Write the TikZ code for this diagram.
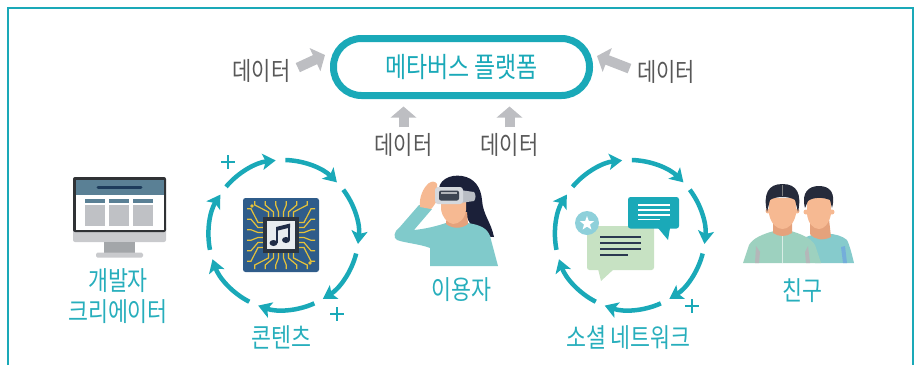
\documentclass[tikz,border=0pt]{standalone}
\usepackage{fontspec}
\newfontfamily\krfont[FakeStretch=0.82]{Noto Sans CJK KR}
\usetikzlibrary{arrows.meta, calc, shapes.geometric}

\definecolor{mvteal}{HTML}{1AA9B8}
\definecolor{lblteal}{HTML}{27AEBC}
\definecolor{txtgray}{HTML}{585858}
\definecolor{feedgray}{HTML}{BDBEC2}
% icon colours
\definecolor{monbezel}{HTML}{303235}
\definecolor{monchin}{HTML}{C9CACD}
\definecolor{monhead}{HTML}{5A8095}
\definecolor{monbar}{HTML}{1D3C5C}
\definecolor{monbody}{HTML}{BFC1C5}
\definecolor{monneck}{HTML}{A3A6A9}
\definecolor{chipblue}{HTML}{2F5C8A}
\definecolor{chipcore}{HTML}{2B3440}
\definecolor{chiptrace}{HTML}{E6C23A}
\definecolor{chipface}{HTML}{E8ECF0}
\definecolor{notenavy}{HTML}{1F2C47}
\definecolor{hair}{HTML}{1B2039}
\definecolor{skin}{HTML}{F6B992}
\definecolor{skinshade}{HTML}{E5A27C}
\definecolor{sweater}{HTML}{80CACB}
\definecolor{visor}{HTML}{D5D8DD}
\definecolor{visorside}{HTML}{B9BDC4}
\definecolor{visordark}{HTML}{3C4451}
\definecolor{bubgreen}{HTML}{C7E2C3}
\definecolor{bubline}{HTML}{2A3850}
\definecolor{starring}{HTML}{8ED0DA}
\definecolor{shirtmint}{HTML}{9DD1BF}
\definecolor{shirtblue}{HTML}{86CBCC}
\definecolor{shirtside}{HTML}{74AEDA}
\definecolor{manhair}{HTML}{262B3B}
\definecolor{dart}{HTML}{B4B7B9}

\tikzset{
  platform/.style={draw=mvteal, line width=7pt, rounded corners=28pt,
    minimum width=256pt, minimum height=57pt, text=mvteal,
    font=\krfont\fontsize{28}{32}\selectfont},
  datalabel/.style={text=txtgray, inner sep=0pt, font=\krfont\fontsize{25.5}{30}\selectfont},
  grouplabel/.style={text=lblteal, inner sep=0pt, align=center,
    font=\krfont\fontsize{26.5}{31}\selectfont},
  feed/.style={draw=feedgray, line width=10pt, -{Triangle[length=11pt, width=25pt]}},
  loopseg/.style={draw=mvteal, line width=4.5pt, -{Stealth[length=13pt, width=16pt, inset=3pt]}},
  plusmark/.style={draw=mvteal, line width=2.4pt},
}

\begin{document}
\begin{tikzpicture}[x=1pt, y=-1pt]
    \useasboundingbox (0,0) rectangle (919,365);
    % frame, open at the bottom
    \draw[mvteal, line width=1.4pt] (8,365) -- (8,8) -- (913,8) -- (913,365);

    % Platform : pill with data flowing in from four sides
    \node[platform] (plat) at (461.5,67) {메타버스 플랫폼};
    \node[datalabel] (dl) at (261.5,71) {데이터};
    \node[datalabel] (dr) at (666,71.5) {데이터};
    \node[datalabel] (du1) at (403.5,145) {데이터};
    \node[datalabel] (du2) at (509.5,145) {데이터};
    \coordinate (inl) at (325,55);
    \coordinate (inr) at (597,56);
    \draw[feed, shorten <=8pt] (dl.east) -- (inl);
    \draw[feed, shorten <=8pt] (dr.west) -- (inr);
    \draw[feed, shorten <=6pt, shorten >=7.5pt] (du1.north) -- (du1.north |- plat.south);
    \draw[feed, shorten <=6pt, shorten >=7.5pt] (du2.north) -- (du2.north |- plat.south);

    % Developer : desktop monitor
    \fill[monchin, rounded corners=2pt] (73,226) rectangle (166,242);
    \fill[monbezel, rounded corners=2pt] (73,177) rectangle (166,232);
    \fill[white] (75.5,180) rectangle (163.5,229.5);
    \fill[monhead] (75.5,180) rectangle (163.5,195);
    \draw[monbar, line width=3pt, line cap=round] (98,187) -- (141,187);
    \foreach \x in {85,109,133} {
        \fill[monhead] (\x,199) rectangle ++(20,4);
        \fill[monbody] (\x,205) rectangle ++(20,21);
    }
    \fill[monneck] (104,242) rectangle (135,253);
    \fill[monchin, rounded corners=1.5pt] (96,252.5) rectangle (143,257.5);
    \node[grouplabel] (dev) at (118,296) {개발자\\크리에이터};

    % Contents : chip with a note, inside a loop of arrows
    \begin{scope}[shift={(281,235)}]
        \fill[chipblue, rounded corners=2.5pt] (-38,-37) rectangle (38,37);
        \foreach \r in {0,90,180,270}
            \foreach \o in {-12.5,-7.5,-2.5,2.5,7.5,12.5}
                \draw[chiptrace, line width=1.2pt, rotate=\r]
                    (\o,-18) -- (\o,-23) -- ({2.1*\o},-30) -- ({2.1*\o},-34);
        \fill[chiptrace] (-29,-29) circle (1.8);
        \fill[chiptrace] (29,28) circle (1.8);
        \fill[chipcore] (-18,-18) rectangle (18,18);
        \fill[chipface] (-14,-14) rectangle (14,14);
        \fill[notenavy] (-7.5,8) ellipse (4 and 3);
        \fill[notenavy] (5,5) ellipse (4 and 3);
        \fill[notenavy] (-4.8,8) rectangle (-3.2,-8);
        \fill[notenavy] (7.4,5) rectangle (9,-11.5);
        \fill[notenavy] (-4.8,-8) -- (9,-11.5) -- (9,-7.5) -- (-4.8,-4) -- cycle;
    \end{scope}
    \node[grouplabel] (cont) at (281.5,337) {콘텐츠};

    % User : woman with a headset
    \fill[hair] (439,193) .. controls (437,180) and (450,174) .. (462,176)
        .. controls (475,178) and (481,188) .. (482,200)
        .. controls (483,215) and (491,222) .. (494,237) -- (481,236)
        .. controls (474,230) and (468,222) .. (466,214) -- (446,217)
        .. controls (442,210) and (440,201) .. (439,193) -- cycle;
    \fill[sweater] (430,266) -- (430,248) .. controls (420,244) and (405,243) .. (397,240)
        .. controls (393,238) and (394,231) .. (399,228) -- (419,205) -- (432,209) -- (414,230)
        .. controls (425,229) and (437,226) .. (446,223)
        .. controls (452,227) and (462,227) .. (468,223)
        .. controls (480,225) and (487,228) .. (490,236) -- (498,266) -- cycle;
    \fill[skinshade] (447,212) -- (467,212) -- (468,224)
        .. controls (461,229) and (453,229) .. (446,224) -- cycle;
    \fill[skin] (441,196) -- (466,196) -- (466,210) .. controls (465,219) and (459,224) .. (453,224)
        .. controls (447,223) and (442,217) .. (441,209) -- cycle;
    \fill[skin] (420,207) .. controls (419,197) and (423,188) .. (429,183)
        .. controls (432,181) and (435,181) .. (437,184) -- (438,198)
        .. controls (436,203) and (433,207) .. (431,209) -- cycle;
    \fill[visorside] (460,190) -- (474,192) .. controls (476,195) and (476,198) .. (474,201) -- (460,203) -- cycle;
    \fill[visor, rounded corners=3pt] (435,187) rectangle (463,204);
    \fill[visordark, rounded corners=2pt] (439,190.5) rectangle (459,200.5);
    \fill[white!60!visordark] (441,192) rectangle (457,194);
    \node[grouplabel] (user) at (461,290) {이용자};

    % Social network : two speech bubbles inside a loop of arrows
    \fill[bubgreen, rounded corners=2.5pt] (587,226) rectangle (654,270);
    \fill[bubgreen] (598,269) -- (601,281) -- (614,269) -- cycle;
    \foreach \y in {237,243,249}
        \draw[bubline, line width=1.8pt] (600,\y) -- (641,\y);
    \draw[bubline, line width=1.8pt] (600,255) -- (628,255);
    \fill[mvteal, rounded corners=2.5pt] (628,197) rectangle (679,228.5);
    \fill[mvteal] (658,228) -- (668,240) -- (670,228) -- cycle;
    \foreach \y in {205,210,215}
        \draw[white, line width=1.5pt] (638,\y) -- (670,\y);
    \draw[white, line width=1.5pt] (638,219.5) -- (660,219.5);
    \fill[starring] (587,223) circle (12);
    \node[star, star points=5, star point ratio=2.4, fill=white, inner sep=0pt, minimum size=15pt] (badge) at (587,223.5) {};
    \node[grouplabel] (social) at (628.5,337.5) {소셜 네트워크};

    % arrow loops round the two middle icons
    \coordinate (c1) at (283.5,235);
    \coordinate (c2) at (630,235);
    \foreach \c in {c1,c2}
        \foreach \k in {0,...,6} {
            \pgfmathsetmacro\tipang{-96+51.43*\k}
            \draw[loopseg] ($(\c)+({\tipang-44}:75)$) arc[start angle={\tipang-44}, end angle=\tipang, radius=75];
        }
    \foreach \p in {(228,162),(337,314),(692,306)}
        \draw[plusmark] \p ++(-7,0) -- ++(14,0) \p ++(0,-7) -- ++(0,14);

    % Friends : two men side by side
    \fill[shirtblue] (806,237) .. controls (818,232) and (838,232) .. (847,240)
        .. controls (850,246) and (852,255) .. (854,263) -- (815,263) -- cycle;
    \fill[shirtside] (841,247) -- (845,246) -- (847,263) -- (843,263) -- cycle;
    \fill[skinshade] (810,219) -- (829,219) -- (831,237) .. controls (823,241) and (815,240) .. (810,234) -- cycle;
    \fill[skin] (806,212) circle (2.5) (832,212) circle (2.5);
    \fill[skin] (807,197) -- (831,197) -- (831,214) .. controls (829,224) and (824,229) .. (819,229)
        .. controls (813,229) and (808,223) .. (807,214) -- cycle;
    \fill[manhair] (805,208) .. controls (801,192) and (809,186) .. (819,186)
        .. controls (830,186) and (836,193) .. (832,208) -- (830,200)
        .. controls (823,197) and (813,197) .. (808,201) -- cycle;
    \fill[shirtmint] (743,263) -- (749,245) .. controls (753,238) and (763,234) .. (774,231) -- (791,231)
        .. controls (801,234) and (811,238) .. (815,245) -- (821,263) -- cycle;
    \fill[dart] (756,246) -- (760,252) -- (759,263) -- (755,263) -- cycle;
    \fill[dart] (808,246) -- (805,252) -- (806,263) -- (810,263) -- cycle;
    \draw[white!60!shirtmint, line width=0.6pt] (782.5,234) -- (782.5,263);
    \fill[skinshade] (773,218) -- (792,218) -- (792,233) .. controls (786,237) and (779,237) .. (773,233) -- cycle;
    \fill[skin] (768,211) circle (2.5) (797,211) circle (2.5);
    \fill[skin] (769,198) -- (796,198) -- (796,214) .. controls (794,224) and (788,229) .. (782.5,229)
        .. controls (777,229) and (771,224) .. (769,214) -- cycle;
    \fill[manhair] (767,212) .. controls (763,194) and (768,184) .. (782.5,184)
        .. controls (797,184) and (802,194) .. (798,212) -- (795,200)
        .. controls (789,196) and (776,196) .. (770,200) -- cycle;
    \draw[gray, line width=0.5pt] (782.5,185) -- (782.5,196);
    \node[grouplabel] (friend) at (802.5,291) {친구};
\end{tikzpicture}
\end{document}
